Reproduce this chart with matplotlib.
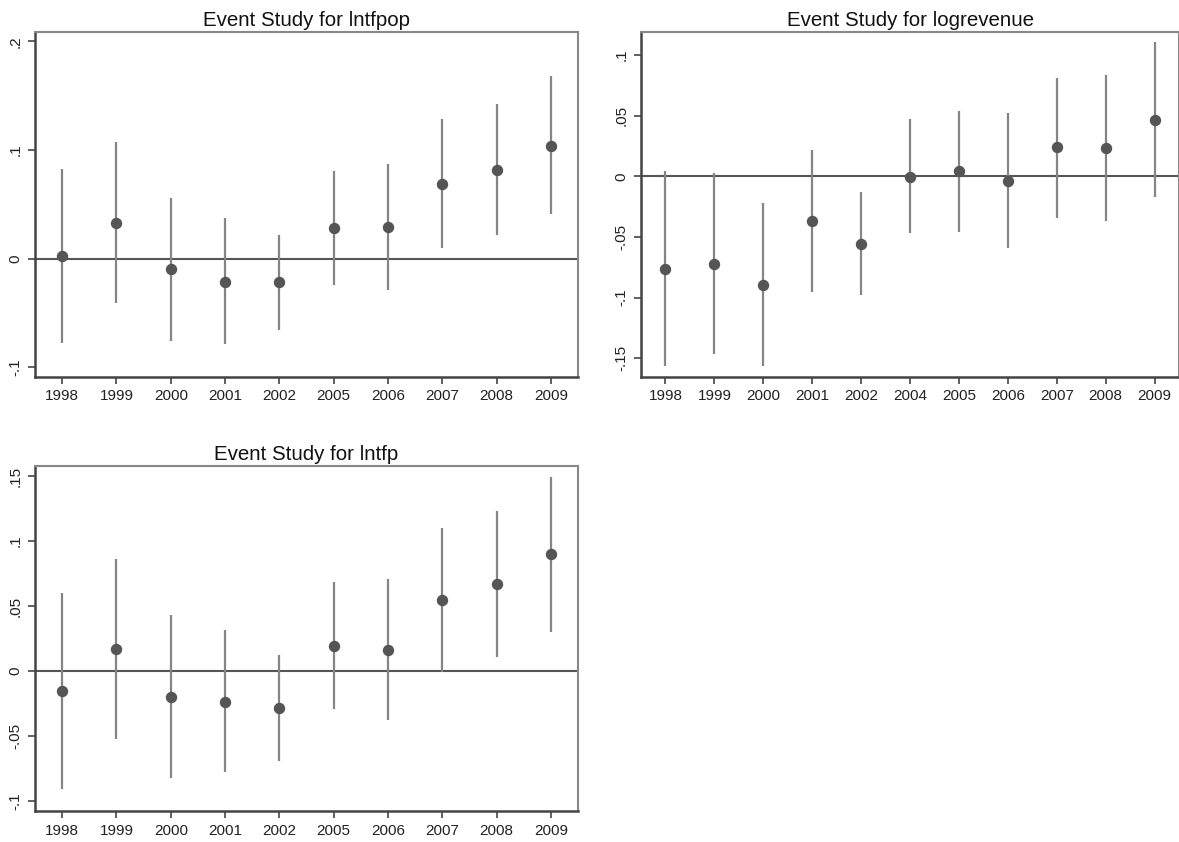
import matplotlib.pyplot as plt

plt.rcParams['font.family'] = ['Liberation Sans', 'DejaVu Sans']

# lntfpop
years_a = ['1998', '1999', '2000', '2001', '2002', '2005', '2006', '2007', '2008', '2009']
coef_a = [0.002, 0.033, -0.010, -0.0215, -0.022, 0.0286, 0.029, 0.069, 0.082, 0.104]
lo_a = [-0.078, -0.041, -0.076, -0.079, -0.0655, -0.024, -0.0286, 0.0098, 0.022, 0.041]
hi_a = [0.0825, 0.107, 0.056, 0.037, 0.022, 0.081, 0.087, 0.1286, 0.142, 0.168]

# logrevenue
years_b = ['1998', '1999', '2000', '2001', '2002', '2004', '2005', '2006', '2007', '2008', '2009']
coef_b = [-0.0761, -0.0723, -0.0893, -0.0368, -0.0558, -0.0003, 0.0041, -0.0036, 0.0239, 0.0236, 0.0467]
lo_b = [-0.1566, -0.1464, -0.156, -0.0956, -0.098, -0.0467, -0.0459, -0.059, -0.034, -0.0365, -0.0173]
hi_b = [0.0041, 0.0027, -0.022, 0.022, -0.0132, 0.047, 0.054, 0.052, 0.081, 0.0838, 0.1107]

# lntfp
years_c = ['1998', '1999', '2000', '2001', '2002', '2005', '2006', '2007', '2008', '2009']
coef_c = [-0.0156, 0.0169, -0.0197, -0.0236, -0.0285, 0.0195, 0.0164, 0.0546, 0.0667, 0.0897]
lo_c = [-0.0908, -0.052, -0.0826, -0.078, -0.069, -0.0295, -0.0377, -0.0005, 0.0108, 0.030]
hi_c = [0.0597, 0.0864, 0.043, 0.0315, 0.0123, 0.0687, 0.0708, 0.110, 0.123, 0.149]

yt_a = [-0.1, 0, 0.1, 0.2]
ytl_a = ['-.1', '0', '.1', '.2']
yt_b = [-0.15, -0.1, -0.05, 0, 0.05, 0.1]
ytl_b = ['-.15', '-.1', '-.05', '0', '.05', '.1']
yt_c = [-0.1, -0.05, 0, 0.05, 0.1, 0.15]
ytl_c = ['-.1', '-.05', '0', '.05', '.1', '.15']


def panel(ax, title, years, coef, lo, hi, yt, ytl, ylim):
    x = range(len(years))
    ax.axhline(0, color='#555555', lw=1.5, zorder=1)
    ax.vlines(x, lo, hi, color='#858585', lw=1.6, zorder=2)
    ax.plot(x, coef, 'o', color='#555555', ms=7.2, zorder=3)
    ax.set_xlim(-0.5, len(years) - 0.5)
    ax.set_ylim(*ylim)
    ax.set_xticks(list(x))
    ax.set_xticklabels(years)
    ax.set_yticks(yt)
    ax.set_yticklabels(ytl, rotation=90, va='center')
    ax.tick_params(axis='both', direction='out', length=5, width=1.2,
                   color='#444444', labelsize=11, labelcolor='#222222')
    ax.tick_params(axis='x', pad=4)
    ax.tick_params(axis='y', pad=4)
    for s in ['left', 'bottom']:
        ax.spines[s].set_color('#444444')
        ax.spines[s].set_linewidth(1.8)
    for s in ['top', 'right']:
        ax.spines[s].set_color('#888888')
        ax.spines[s].set_linewidth(1.5)
    ax.set_title(title, fontsize=14.8, color='#111111', pad=4)


fig = plt.figure(figsize=(11.79, 8.42), dpi=100)
ax1 = fig.add_axes([0.0297, 0.5523, 0.4606, 0.4097])
ax2 = fig.add_axes([0.5437, 0.5523, 0.4563, 0.4097])
ax3 = fig.add_axes([0.0297, 0.0368, 0.4606, 0.4097])

panel(ax1, 'Event Study for lntfpop', years_a, coef_a, lo_a, hi_a, yt_a, ytl_a, (-0.109, 0.2086))
panel(ax2, 'Event Study for logrevenue', years_b, coef_b, lo_b, hi_b, yt_b, ytl_b, (-0.1654, 0.119))
panel(ax3, 'Event Study for lntfp', years_c, coef_c, lo_c, hi_c, yt_c, ytl_c, (-0.1077, 0.1577))

fig.savefig('out.png', dpi=100)
